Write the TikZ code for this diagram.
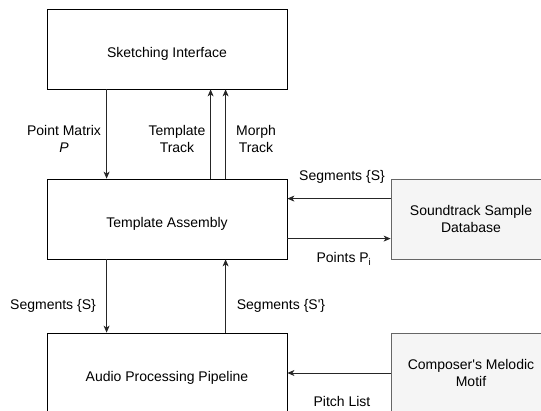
\documentclass[tikz,border=0pt]{standalone}
\usepackage{fontspec}
\setmainfont{Liberation Sans}
\usetikzlibrary{arrows.meta}

\definecolor{dbfill}{HTML}{F5F5F5}
\definecolor{dbline}{HTML}{666666}

\tikzset{
  block/.style={draw=black, fill=white, line width=0.8pt, minimum width=240pt,
    minimum height=80pt, inner sep=0pt, text height=16pt, text depth=0pt},
  source/.style={draw=dbline, fill=dbfill, line width=0.8pt, minimum width=160pt,
    minimum height=80pt, inner sep=0pt, align=center},
  flow/.style={draw=black!85, line width=0.8pt, -{Stealth[length=7pt,width=6pt,inset=2pt]}},
  lbl/.style={align=center, inner sep=0pt}
}

\begin{document}
\begin{tikzpicture}[x=1pt, y=-1pt, font=\fontsize{14}{17}\selectfont]
  \clip (0,0) rectangle (541,410);

  \node[block] (sketch) at (167,49) {Sketching Interface};
  \node[block] (tmpl) at (167,219) {Template Assembly};
  \node[block] (audio) at (167,373) {Audio Processing Pipeline};
  \node[source] (sound) at (471,219) {Soundtrack Sample\\Database};
  \node[source] (motif) at (471,373) {Composer\textquotesingle s Melodic\\Motif};

  \draw[flow] ([xshift=60pt]sketch.south west) -- ([xshift=60pt]tmpl.north west);
  \draw[flow] ([xshift=164pt]tmpl.north west) -- ([xshift=164pt]sketch.south west);
  \draw[flow] ([xshift=179pt]tmpl.north west) -- ([xshift=179pt]sketch.south west);
  \draw[flow] ([yshift=-20pt]sound.north west) -- ([yshift=-20pt]tmpl.north east);
  \draw[flow] ([yshift=-60pt]tmpl.north east) -- ([yshift=-60pt]sound.north west);
  \draw[flow] ([xshift=60pt]tmpl.south west) -- ([xshift=60pt]audio.north west);
  \draw[flow] ([xshift=179pt]audio.north west) -- ([xshift=179pt]tmpl.south west);
  \draw[flow] (motif.west) -- (audio.east);

  \node[lbl] (pmat) at (64,139) {Point Matrix\\\textit{P}};
  \node[lbl] (ttrack) at (177,139) {Template\\Track};
  \node[lbl] (mtrack) at (256,139) {Morph\\Track};
  \node[lbl] (segin) at (342,177) {Segments \{S\}};
  \node[lbl] (pts) at (344,259) {Points P\textsubscript{i}};
  \node[lbl] (segdown) at (53,306) {Segments \{S\}};
  \node[lbl] (segup) at (281,306) {Segments \{S\textquotesingle\}};
  \node[lbl] (pitch) at (342,401) {Pitch List};
\end{tikzpicture}
\end{document}
